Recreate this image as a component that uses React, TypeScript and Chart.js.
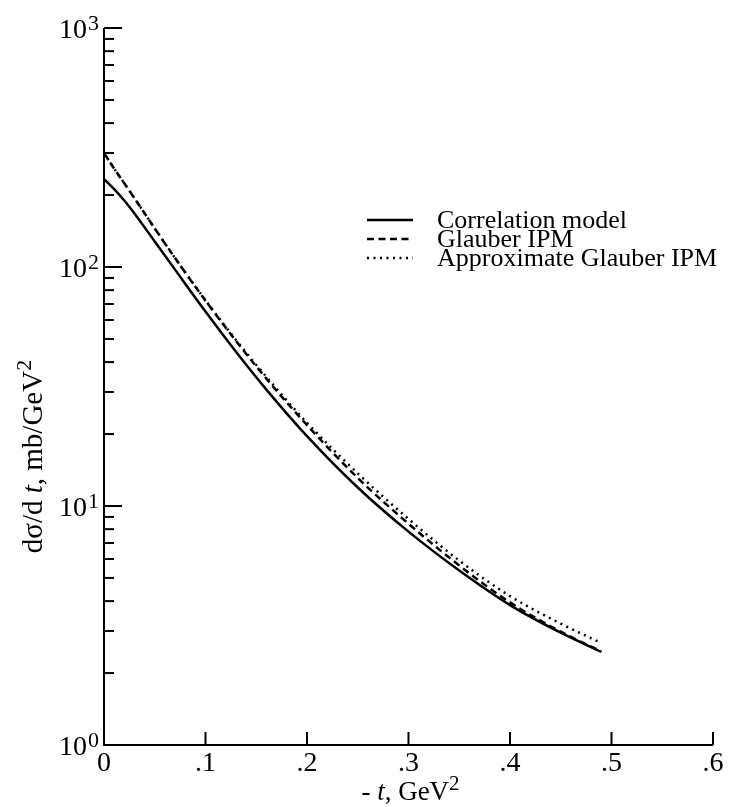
import React, { useEffect, useRef } from "react";
import { Chart, registerables } from "chart.js";

Chart.register(...registerables);

// ---- data ----
const tValues = [0, 0.01, 0.02, 0.03, 0.05, 0.07, 0.1, 0.13, 0.16, 0.2, 0.25, 0.3, 0.35, 0.4, 0.45, 0.49];
const correlationModel = [233, 211.8, 189.7, 167.5, 127.9, 97.5, 65.1, 44.2, 30.7, 19.6, 11.95, 7.81, 5.37, 3.85, 2.95, 2.45];
const glauberIPM = [300, 258, 224, 194, 145, 109, 72.3, 49.1, 34.1, 21.8, 13.1, 8.43, 5.64, 3.95, 2.98, 2.46];
const approxGlauberIPM = [300, 258, 224, 194, 145, 109, 72.6, 49.5, 34.7, 22.3, 13.7, 8.83, 5.91, 4.2, 3.22, 2.67];

const seriesNames = ["Correlation model", "Glauber IPM", "Approximate Glauber IPM"];

const xTicks = [0, 0.1, 0.2, 0.3, 0.4, 0.5, 0.6];
const xTickLabels = ["0", ".1", ".2", ".3", ".4", ".5", ".6"];
const yDecades = [1, 10, 100, 1000];
const yTickBase = ["10", "10", "10", "10"];
const yTickExp = ["0", "1", "2", "3"];
const yMinorMultipliers = [2, 3, 4, 5, 6, 7, 8, 9];

const FONT = "'Liberation Serif', 'Times New Roman', serif";

const dashStyles: number[][] = [[], [7, 4.5], [2, 4.5]];

function pts(vals: number[]) {
  return tValues.map((t, i) => ({ x: t, y: vals[i] }));
}

function drawParts(ctx: any, parts: { t: string; f: string; dy: number }[], cx: number, by: number) {
  let w = 0;
  for (const p of parts) {
    ctx.font = p.f;
    w += ctx.measureText(p.t).width;
  }
  let x = cx - w / 2;
  ctx.textAlign = "left";
  ctx.textBaseline = "alphabetic";
  for (const p of parts) {
    ctx.font = p.f;
    ctx.fillText(p.t, x, by + p.dy);
    x += ctx.measureText(p.t).width;
  }
}

const decor = {
  id: "decor",
  afterDraw(chart: any) {
    const { ctx, chartArea } = chart;
    const { left, right, top, bottom } = chartArea;
    const xs = chart.scales.x;
    const ys = chart.scales.y;
    ctx.save();
    ctx.strokeStyle = "#000";
    ctx.fillStyle = "#000";
    ctx.lineWidth = 2;
    ctx.lineCap = "butt";
    // axes
    ctx.beginPath();
    ctx.moveTo(left, top);
    ctx.lineTo(left, bottom);
    ctx.lineTo(right, bottom);
    ctx.stroke();
    // y ticks (major + minor)
    for (let d = 0; d < yDecades.length; d++) {
      const py = ys.getPixelForValue(yDecades[d]);
      ctx.beginPath();
      ctx.moveTo(left, py);
      ctx.lineTo(left + 18, py);
      ctx.stroke();
      if (d < yDecades.length - 1) {
        for (const m of yMinorMultipliers) {
          const pm = ys.getPixelForValue(yDecades[d] * m);
          ctx.beginPath();
          ctx.moveTo(left, pm);
          ctx.lineTo(left + 10, pm);
          ctx.stroke();
        }
      }
    }
    // x ticks
    for (const v of xTicks) {
      if (v === 0) continue;
      const px = xs.getPixelForValue(v);
      ctx.beginPath();
      ctx.moveTo(px, bottom);
      ctx.lineTo(px, bottom - 13);
      ctx.stroke();
    }
    // y labels with superscripts
    for (let d = 0; d < yDecades.length; d++) {
      const py = ys.getPixelForValue(yDecades[d]);
      ctx.font = `28px ${FONT}`;
      ctx.textAlign = "right";
      ctx.textBaseline = "alphabetic";
      ctx.fillText(yTickBase[d], left - 17, py + 10);
      ctx.font = `22px ${FONT}`;
      ctx.textAlign = "left";
      ctx.fillText(yTickExp[d], left - 16, py + 2);
    }
    // x title: "- t, GeV2"
    drawParts(
      ctx,
      [
        { t: "- ", f: `27px ${FONT}`, dy: 0 },
        { t: "t", f: `italic 27px ${FONT}`, dy: 0 },
        { t: ", GeV", f: `27px ${FONT}`, dy: 0 },
        { t: "2", f: `21px ${FONT}`, dy: -10 },
      ],
      (left + right) / 2 + 2,
      bottom + 55
    );
    // y title: "dσ/dt, mb/GeV2" rotated
    ctx.save();
    ctx.translate(left - 62, (top + bottom) / 2 + 70);
    ctx.rotate(-Math.PI / 2);
    drawParts(
      ctx,
      [
        { t: "d\u03C3/d ", f: `29px ${FONT}`, dy: 0 },
        { t: "t", f: `italic 29px ${FONT}`, dy: 0 },
        { t: ", mb/GeV", f: `29px ${FONT}`, dy: 0 },
        { t: "2", f: `22px ${FONT}`, dy: -11 },
      ],
      0,
      0
    );
    ctx.restore();
    // legend
    const lx0 = left + 263;
    const lx1 = left + 309;
    const tx = left + 333;
    const y0 = top + 192;
    const step = 19;
    chart.data.datasets.forEach((ds: any, i: number) => {
      const ly = y0 + i * step;
      ctx.save();
      ctx.lineWidth = 2.5;
      ctx.setLineDash(dashStyles[i]);
      ctx.beginPath();
      ctx.moveTo(lx0, ly);
      ctx.lineTo(lx1, ly);
      ctx.stroke();
      ctx.restore();
      ctx.font = `26px ${FONT}`;
      ctx.textAlign = "left";
      ctx.textBaseline = "alphabetic";
      ctx.fillText(ds.label, tx, ly + 8);
    });
    ctx.restore();
  },
};

export default function App() {
  const ref = useRef<HTMLCanvasElement>(null);
  useEffect(() => {
    document.body.style.margin = "0";
    const canvas = ref.current!;
    const series = [correlationModel, glauberIPM, approxGlauberIPM];
    const chart = new Chart(canvas, {
      type: "line",
      data: {
        datasets: series.map((vals, i) => ({
          label: seriesNames[i],
          data: pts(vals),
          borderColor: "#000",
          backgroundColor: "#000",
          borderWidth: 2.5,
          borderDash: dashStyles[i],
          pointRadius: 0,
          cubicInterpolationMode: "monotone",
          fill: false,
        })),
      },
      options: {
        responsive: false,
        animation: false,
        devicePixelRatio: 1,
        layout: { padding: { left: 8, top: 28, right: 27, bottom: 0 } },
        plugins: { legend: { display: false }, tooltip: { enabled: false } },
        scales: {
          x: {
            type: "linear",
            min: 0,
            max: 0.6,
            grid: { display: false, drawTicks: false },
            border: { display: false },
            afterBuildTicks: (s: any) => {
              s.ticks = xTicks.map((v) => ({ value: v }));
            },
            afterFit: (s: any) => {
              s.height = 62;
            },
            ticks: {
              autoSkip: false,
              maxRotation: 0,
              padding: 2,
              color: "#000",
              font: { family: FONT, size: 28 },
              callback: (_v: any, i: number) => xTickLabels[i],
            },
          },
          y: {
            type: "logarithmic",
            min: 1,
            max: 1000,
            grid: { display: false, drawTicks: false },
            border: { display: false },
            afterFit: (s: any) => {
              s.width = 96;
            },
            ticks: { display: false },
          },
        },
      } as any,
      plugins: [decor],
    });
    return () => chart.destroy();
  }, []);
  return <canvas ref={ref} width={740} height={807} style={{ display: "block" }} />;
}
